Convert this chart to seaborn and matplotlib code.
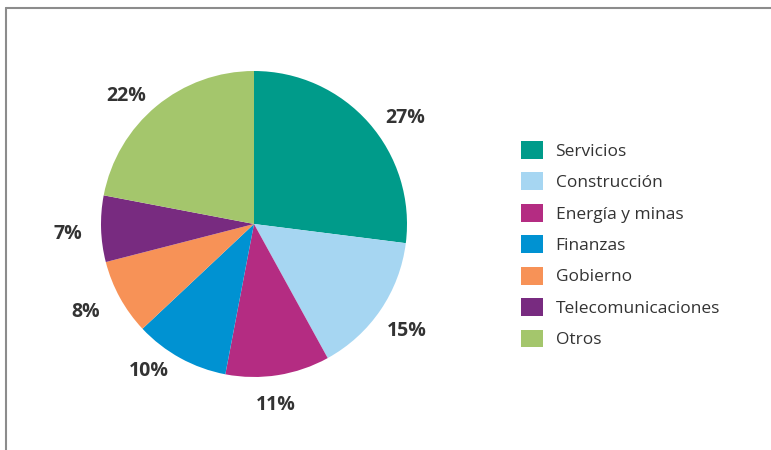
import matplotlib
matplotlib.use("Agg")
import numpy as np
import matplotlib.pyplot as plt
import seaborn as sns
from matplotlib.patches import Patch
from matplotlib.lines import Line2D

categories = ["Servicios", "Construcción", "Energía y minas", "Finanzas",
              "Gobierno", "Telecomunicaciones", "Otros"]
values = [27, 15, 11, 10, 8, 7, 22]
colors = ["#009B8A", "#A6D6F2", "#B42C82", "#0092D2", "#F79257", "#782B80", "#A4C66C"]

# label placement tweaks (degrees offset from wedge centre, radial distance)
label_angle_shift = [-6.4, -0.6, -2.0, -6.7, -1.0, 1.2, 5.4]
label_dist = [1.21, 1.22, 1.19, 1.18, 1.24, 1.22, 1.18]

sns.set_theme(style="white")
plt.rcParams['font.family'] = ['Open Sans', 'DejaVu Sans']

W, H = 771, 450
fig = plt.figure(figsize=(W / 100, H / 100), dpi=100)

cx, cy, r = 254, 224, 153
ax = fig.add_axes([(cx - r) / W, (H - cy - r) / H, 2 * r / W, 2 * r / H])
wedges, texts, autotexts = ax.pie(
    values, colors=colors, startangle=90, counterclock=False,
    autopct=lambda p: f"{p:.0f}%", pctdistance=1.22, radius=1,
    wedgeprops=dict(linewidth=0),
    textprops=dict(fontsize=14, fontweight="bold", color="#333333"))
for w, t, da, d in zip(wedges, autotexts, label_angle_shift, label_dist):
    ang = np.deg2rad((w.theta1 + w.theta2) / 2 + da)
    t.set_position((d * np.cos(ang), d * np.sin(ang)))
    t.set_clip_on(False)
ax.set_xlim(-1, 1)
ax.set_ylim(-1, 1)
ax.set_aspect("equal")
ax.axis("off")

# frame lines (top and left)
fig.add_artist(Line2D([6 / W, 1], [1 - 8 / H, 1 - 8 / H], transform=fig.transFigure,
                      color="#8c8c8c", linewidth=1.5))
fig.add_artist(Line2D([6 / W, 6 / W], [0, 1 - 8 / H], transform=fig.transFigure,
                      color="#8c8c8c", linewidth=1.5))

handles = [Patch(facecolor=c, edgecolor="none", label=l) for c, l in zip(colors, categories)]
leg = fig.legend(handles=handles, loc="upper left", bbox_to_anchor=(521 / W, 1 - 141 / H),
                 frameon=False, fontsize=12.5, handlelength=1.27, handleheight=1.2,
                 labelspacing=0.73, handletextpad=0.72, borderaxespad=0, borderpad=0)
for t in leg.get_texts():
    t.set_color("#333333")

fig.savefig("out.png", dpi=100, facecolor="white")
